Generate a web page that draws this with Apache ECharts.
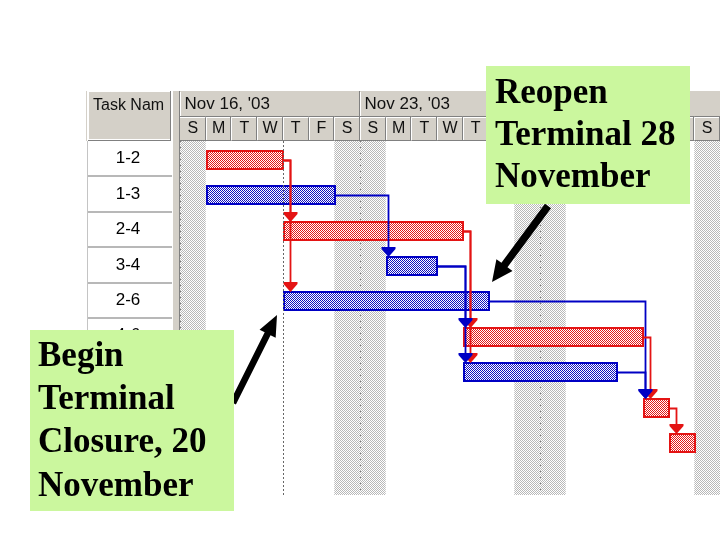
<!DOCTYPE html>
<html>
<head>
<meta charset="utf-8">
<style>
html, body { margin: 0; padding: 0; background: #fff; }
#chart { width: 720px; height: 540px; }
</style>
<script src="https://cdn.jsdelivr.net/npm/echarts@6/dist/echarts.min.js"></script>
</head>
<body>
<div id="chart"></div>
<script>
// timescale: day 0 = Sun Nov 16 2003
const dayLetters = ['S','M','T','W','T','F','S','S','M','T','W','T','F','S','S','M','T','W','T','F','S'];
const weekLabels = ["Nov 16, '03", "Nov 23, '03", "Nov 30, '03"];
const weekStarts = [0, 7, 14];
const nonWorkDays = [0, 6, 7, 13, 14, 20];
const statusDay = 4; // Thu Nov 20

const tasks = ['1-2', '1-3', '2-4', '3-4', '2-6', '4-6', '4-5', '6-7', '7-8'];
const taskStart = [1, 1, 4, 8, 4, 11, 11, 18, 19];
const taskEnd = [4, 6, 11, 10, 12, 18, 17, 19, 20];
const critical = [true, false, true, false, false, true, false, true, true];

// predecessor links [from, to]
const links = [[0, 2], [0, 4], [1, 3], [2, 5], [2, 6], [3, 5], [3, 6], [4, 7], [5, 7], [6, 7], [7, 8]];

const RED = '#e41414';
const BLUE = '#0000c4';

function checker(c1, c2) {
    const cv = document.createElement('canvas');
    cv.width = 2;
    cv.height = 2;
    const ctx = cv.getContext('2d');
    ctx.fillStyle = c1;
    ctx.fillRect(0, 0, 1, 1);
    ctx.fillRect(1, 1, 1, 1);
    if (c2) {
        ctx.fillStyle = c2;
        ctx.fillRect(1, 0, 1, 1);
        ctx.fillRect(0, 1, 1, 1);
    }
    return { image: cv, repeat: 'repeat' };
}

const redFill = checker('#e41818', '#ffffff');
const blueFill = checker('#1010c0', '#ffffff');
const shadeFill = checker('#b8b8b8', null);

function arrowShape(tail, tip, shaft, headLen, headW) {
    const dx = tip[0] - tail[0], dy = tip[1] - tail[1];
    const L = Math.hypot(dx, dy);
    const ux = dx / L, uy = dy / L, nx = -uy, ny = ux;
    const bx = tip[0] - ux * headLen, by = tip[1] - uy * headLen;
    return [
        [tail[0] + nx * shaft / 2, tail[1] + ny * shaft / 2],
        [bx + nx * shaft / 2, by + ny * shaft / 2],
        [bx + nx * headW / 2, by + ny * headW / 2],
        tip,
        [bx - nx * headW / 2, by - ny * headW / 2],
        [bx - nx * shaft / 2, by - ny * shaft / 2],
        [tail[0] - nx * shaft / 2, tail[1] - ny * shaft / 2]
    ];
}

const chart = echarts.init(document.getElementById('chart'));

const FONT = '"Liberation Sans", Arial, sans-serif';
const SERIF = '"Liberation Serif", "Times New Roman", serif';

const option = {
    animation: false,
    grid: { left: 180, right: 0, top: 141, bottom: 45 },
    xAxis: {
        type: 'value',
        position: 'top',
        min: 0,
        max: 21,
        interval: 7,
        axisLine: { show: false },
        axisTick: { show: false },
        axisLabel: { show: false },
        splitLine: { show: true, lineStyle: { color: '#7a7a7a', type: [1, 2], width: 1 } }
    },
    yAxis: {
        type: 'category',
        inverse: true,
        data: tasks.concat(['']),
        axisLine: { show: false },
        axisTick: { show: false },
        splitLine: { show: false },
        axisLabel: {
            align: 'center',
            margin: 52,
            fontFamily: FONT,
            fontSize: 17,
            color: '#000'
        }
    },
    graphic: [
        // timescale header background
        { type: 'rect', z: 0, shape: { x: 86, y: 91, width: 634, height: 50 }, style: { fill: '#d4d0c8' } },
        // task name header cell
        { type: 'rect', z: 1, shape: { x: 88, y: 91, width: 83, height: 49 }, style: { fill: '#d4d0c8', stroke: '#ffffff', lineWidth: 2 } },
        { type: 'line', z: 1, shape: { x1: 170.5, y1: 91, x2: 170.5, y2: 141 }, style: { stroke: '#808080' } },
        { type: 'line', z: 1, shape: { x1: 88, y1: 140.5, x2: 171, y2: 140.5 }, style: { stroke: '#808080' } },
        { type: 'text', z: 2, style: { text: 'Task Nam', x: 93, y: 106, verticalAlign: 'middle', font: '16px ' + FONT, fill: '#111' } },
        // task column left border
        { type: 'line', z: 1, shape: { x1: 87.5, y1: 141, x2: 87.5, y2: 497 }, style: { stroke: '#c4c4c4' } },
        // splitter
        { type: 'rect', z: 1, shape: { x: 172, y: 91, width: 8, height: 406 }, style: { fill: '#d4d0c8' } },
        { type: 'line', z: 1, shape: { x1: 172.5, y1: 91, x2: 172.5, y2: 497 }, style: { stroke: '#ffffff' } },
        { type: 'line', z: 1, shape: { x1: 179.5, y1: 91, x2: 179.5, y2: 497 }, style: { stroke: '#808080' } },
        // annotations
        { type: 'polygon', z: 99, shape: { points: arrowShape([548, 206], [492, 282], 7.5, 21, 20) }, style: { fill: '#000' } },
        { type: 'polygon', z: 99, shape: { points: arrowShape([233, 403], [277, 315], 6.5, 21, 18) }, style: { fill: '#000' } },
        { type: 'rect', z: 100, shape: { x: 486, y: 66, width: 204, height: 138 }, style: { fill: '#cbf79e' } },
        {
            type: 'text', z: 101,
            style: { text: 'Reopen\nTerminal 28\nNovember', x: 495, y: 73, verticalAlign: 'top', font: 'bold 35px ' + SERIF, fill: '#000', lineHeight: 42 }
        },
        { type: 'rect', z: 100, shape: { x: 30, y: 330, width: 204, height: 181 }, style: { fill: '#cbf79e' } },
        {
            type: 'text', z: 101,
            style: { text: 'Begin\nTerminal\nClosure, 20\nNovember', x: 38, y: 335, verticalAlign: 'top', font: 'bold 35px ' + SERIF, fill: '#000', lineHeight: 43.3 }
        }
    ],
    series: [
        {
            // non-working time
            type: 'custom',
            name: 'nonwork',
            z: 1,
            data: nonWorkDays.map(d => [d, 0]),
            encode: { x: 0, y: 1 },
            renderItem: (params, api) => {
                const d = api.value(0);
                const x0 = api.coord([d, 0])[0];
                const x1 = api.coord([d + 1, 0])[0];
                const cs = params.coordSys;
                return { type: 'rect', shape: { x: x0, y: cs.y, width: x1 - x0, height: cs.height }, style: { fill: shadeFill } };
            },
            markLine: {
                silent: true,
                symbol: 'none',
                label: { show: false },
                lineStyle: { color: '#666', type: [2, 2], width: 1 },
                data: [{ xAxis: statusDay }]
            }
        },
        {
            // task column row separators
            type: 'custom',
            name: 'rows',
            data: tasks.map((t, i) => [0, i]),
            encode: { x: 0, y: 1 },
            renderItem: (params, api) => {
                const c = api.coord([0, api.value(1)]);
                const h = api.size([0, 1])[1];
                const y = Math.round(c[1] + h / 2);
                return { type: 'line', shape: { x1: 88, y1: y, x2: 172, y2: y }, style: { stroke: '#b8b8b8', lineWidth: 2 } };
            }
        },
        {
            // day header
            type: 'custom',
            name: 'days',
            data: dayLetters.map((l, i) => [i, 0]),
            encode: { x: 0, y: 1 },
            renderItem: (params, api) => {
                const d = api.value(0);
                const x0 = api.coord([d, 0])[0];
                const x1 = api.coord([d + 1, 0])[0];
                const top = params.coordSys.y;
                const xr = Math.round(x1) - 0.5;
                return {
                    type: 'group',
                    children: [
                        { type: 'line', shape: { x1: x0, y1: top - 24.5, x2: x1, y2: top - 24.5 }, style: { stroke: '#808080' } },
                        { type: 'line', shape: { x1: x0, y1: top - 23.5, x2: x1, y2: top - 23.5 }, style: { stroke: '#ffffff' } },
                        { type: 'line', shape: { x1: x0, y1: top - 0.5, x2: x1, y2: top - 0.5 }, style: { stroke: '#808080' } },
                        { type: 'line', shape: { x1: xr, y1: top - 24, x2: xr, y2: top }, style: { stroke: '#808080' } },
                        { type: 'line', shape: { x1: xr + 1, y1: top - 23, x2: xr + 1, y2: top }, style: { stroke: '#ffffff' } },
                        {
                            type: 'text',
                            style: { text: dayLetters[d], x: (x0 + x1) / 2, y: top - 12, align: 'center', verticalAlign: 'middle', font: '16px ' + FONT, fill: '#111' }
                        }
                    ]
                };
            }
        },
        {
            // week header
            type: 'custom',
            name: 'weeks',
            data: weekStarts.map((d, i) => [d, 0]),
            encode: { x: 0, y: 1 },
            renderItem: (params, api) => {
                const d = api.value(0);
                const x0 = Math.round(api.coord([d, 0])[0]) - 0.5;
                const top = params.coordSys.y;
                return {
                    type: 'group',
                    children: [
                        { type: 'line', shape: { x1: x0, y1: top - 50, x2: x0, y2: top - 25 }, style: { stroke: '#808080' } },
                        { type: 'line', shape: { x1: x0 + 1, y1: top - 49, x2: x0 + 1, y2: top - 25 }, style: { stroke: '#ffffff' } },
                        {
                            type: 'text',
                            style: { text: weekLabels[params.dataIndex], x: x0 + 5, y: top - 37, verticalAlign: 'middle', font: '17px ' + FONT, fill: '#111' }
                        }
                    ]
                };
            }
        },
        {
            // task bars
            type: 'custom',
            name: 'bars',
            z: 3,
            data: tasks.map((t, i) => [taskStart[i], taskEnd[i], i]),
            encode: { x: [0, 1], y: 2 },
            renderItem: (params, api) => {
                const row = api.value(2);
                const s = api.coord([api.value(0), row]);
                const e = api.coord([api.value(1), row]);
                const crit = critical[params.dataIndex];
                const h = 18;
                return {
                    type: 'rect',
                    shape: { x: Math.round(s[0]) + 1, y: Math.round(s[1] - h / 2) + 1, width: Math.round(e[0] - s[0]) - 1, height: h },
                    style: { fill: crit ? redFill : blueFill, stroke: crit ? RED : BLUE, lineWidth: 2 }
                };
            }
        },
        {
            // dependency links
            type: 'custom',
            name: 'links',
            z: 4,
            data: links.map(l => [taskEnd[l[0]], l[0]]),
            encode: { x: 0, y: 1 },
            renderItem: (params, api) => {
                const f = links[params.dataIndex][0];
                const t = links[params.dataIndex][1];
                const pf = api.coord([taskEnd[f], f]);
                const pt = api.coord([taskStart[t], t]);
                const xe = Math.round(pf[0]);
                const yf = Math.round(pf[1]) + 1.5;
                const xv = Math.round(Math.max(xe + 7, pt[0] + 2)) + 0.5;
                const topTo = Math.round(pt[1] - 9) + 1;
                const color = critical[f] ? RED : BLUE;
                return {
                    type: 'group',
                    children: [
                        { type: 'polyline', shape: { points: [[xe, yf], [xv, yf], [xv, topTo - 8]] }, style: { stroke: color, lineWidth: 1.8, fill: null } },
                        {
                            type: 'polygon',
                            shape: { points: [[xv - 7, topTo - 10], [xv + 7, topTo - 10], [xv + 7, topTo - 8], [xv, topTo], [xv - 7, topTo - 8]] },
                            style: { fill: color }
                        }
                    ]
                };
            }
        }
    ]
};

chart.setOption(option);
</script>
</body>
</html>
